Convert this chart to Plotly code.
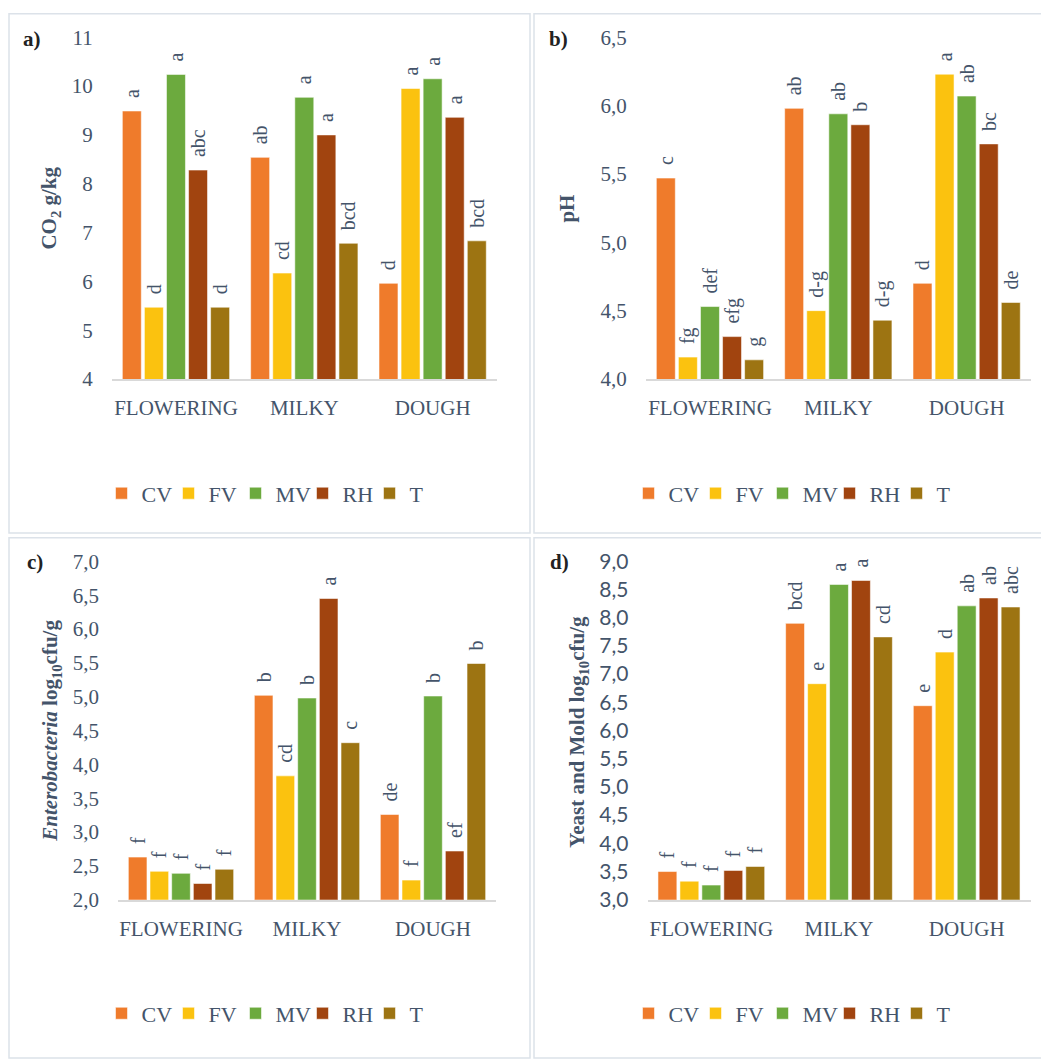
import plotly.graph_objects as go

# Growth stages on the x axis and the five treatments
stages = ["FLOWERING", "MILKY", "DOUGH"]
treatments = ["CV", "FV", "MV", "RH", "T"]

# a) CO2 production (g/kg) per treatment, one value per stage
co2_values = {
    "CV": [9.49, 8.54, 5.96],
    "FV": [5.47, 6.17, 9.95],
    "MV": [10.24, 9.77, 10.15],
    "RH": [8.28, 9.00, 9.36],
    "T":  [5.47, 6.78, 6.83],
}
co2_letters = {
    "CV": ["a", "ab", "d"],
    "FV": ["d", "cd", "a"],
    "MV": ["a", "a", "a"],
    "RH": ["abc", "a", "a"],
    "T":  ["d", "bcd", "bcd"],
}

# b) pH
ph_values = {
    "CV": [5.47, 5.98, 4.70],
    "FV": [4.16, 4.50, 6.23],
    "MV": [4.53, 5.94, 6.07],
    "RH": [4.31, 5.86, 5.72],
    "T":  [4.14, 4.43, 4.56],
}
ph_letters = {
    "CV": ["c", "ab", "d"],
    "FV": ["fg", "d-g", "a"],
    "MV": ["def", "ab", "ab"],
    "RH": ["efg", "b", "bc"],
    "T":  ["g", "d-g", "de"],
}

# c) Enterobacteria (log10 cfu/g)
ent_values = {
    "CV": [2.63, 5.02, 3.26],
    "FV": [2.42, 3.83, 2.29],
    "MV": [2.39, 4.98, 5.01],
    "RH": [2.24, 6.45, 2.72],
    "T":  [2.45, 4.32, 5.49],
}
ent_letters = {
    "CV": ["f", "b", "de"],
    "FV": ["f", "cd", "f"],
    "MV": ["f", "b", "b"],
    "RH": ["f", "a", "ef"],
    "T":  ["f", "c", "b"],
}

# d) Yeast and mold (log10 cfu/g)
ym_values = {
    "CV": [3.50, 7.90, 6.44],
    "FV": [3.33, 6.83, 7.39],
    "MV": [3.26, 8.59, 8.21],
    "RH": [3.52, 8.66, 8.35],
    "T":  [3.59, 7.66, 8.19],
}
ym_letters = {
    "CV": ["f", "bcd", "e"],
    "FV": ["f", "e", "d"],
    "MV": ["f", "a", "ab"],
    "RH": ["f", "a", "ab"],
    "T":  ["f", "cd", "abc"],
}

# Tick values for each panel
co2_ticks = [4, 5, 6, 7, 8, 9, 10, 11]
ph_ticks = [4.0, 4.5, 5.0, 5.5, 6.0, 6.5]
ent_ticks = [2.0, 2.5, 3.0, 3.5, 4.0, 4.5, 5.0, 5.5, 6.0, 6.5, 7.0]
ym_ticks = [3.0, 3.5, 4.0, 4.5, 5.0, 5.5, 6.0, 6.5, 7.0, 7.5, 8.0, 8.5, 9.0]

colors = {
    "CV": "#EF7B2B",
    "FV": "#FBC20F",
    "MV": "#6CAA3E",
    "RH": "#A1440F",
    "T":  "#9D7412",
}

W, H = 1041, 1064
TEXT = "#44546A"
SERIF = "Liberation Serif, Times New Roman, serif"


def px_x(v):
    return v / W


def px_y(v):
    return 1 - v / H


# panel geometry in pixels: x start/end of the plot, pixel row of the axis
# minimum, pixels per unit, and the value at which the plotting area ends
panels = [
    dict(key="a", values=co2_values, letters=co2_letters, ticks=co2_ticks,
         fmt="d", x0=111.8, x1=496.8, ybot=383.3, ppu=49.37, ymin=4, ytop=11.6,
         tickfont=SERIF, legend_xy=(269, 499), label_xy=(32, 39),
         title="<b>CO<sub>2</sub> g/kg</b>", title_xy=(50, 211)),
    dict(key="b", values=ph_values, letters=ph_letters, ticks=ph_ticks,
         fmt=".1f", x0=645.8, x1=1030.8, ybot=383.3, ppu=138.24, ymin=4, ytop=6.7,
         tickfont=SERIF, legend_xy=(796, 499), label_xy=(558, 39),
         title="<b>pH</b>", title_xy=(567, 211)),
    dict(key="c", values=ent_values, letters=ent_letters, ticks=ent_ticks,
         fmt=".1f", x0=118.0, x1=496.0, ybot=910.0, ppu=68.46, ymin=2, ytop=7.3,
         tickfont=SERIF, legend_xy=(269, 1025), label_xy=(35, 568),
         title="<b><i>Enterobacteria</i> log<sub>10</sub>cfu/g</b>", title_xy=(51, 739)),
    dict(key="d", values=ym_values, letters=ym_letters, ticks=ym_ticks,
         fmt=".1f", x0=647.5, x1=1030.5, ybot=910.0, ppu=57.05, ymin=3, ytop=9.35,
         tickfont="Lato, Open Sans, sans-serif", legend_xy=(796, 1025), label_xy=(559, 568),
         title="<b>Yeast and Mold log<sub>10</sub>cfu/g</b>", title_xy=(578, 740)),
]

fig = go.Figure()
annotations = []
shapes = []
layout_axes = {}

for i, p in enumerate(panels):
    n = "" if i == 0 else str(i + 1)
    xa, ya = "x" + n, "y" + n
    leg = "legend" + n
    for t in treatments:
        fig.add_trace(go.Bar(
            x=stages, y=p["values"][t], name=t,
            marker=dict(color=colors[t], line=dict(color="rgba(255,255,255,0.55)", width=1)),
            text=["\u00a0\u00a0" + s for s in p["letters"][t]],
            textposition="outside", textangle=-90, constraintext="none",
            textfont=dict(family=SERIF, size=20, color=TEXT),
            cliponaxis=True,
            xaxis=xa, yaxis=ya, legend=leg,
        ))
    top_px = p["ybot"] - (p["ytop"] - p["ymin"]) * p["ppu"]
    layout_axes["xaxis" + n] = dict(
        domain=[px_x(p["x0"]), px_x(p["x1"])], anchor=ya,
        showline=True, linecolor="#D9D9D9", linewidth=1.5, ticks="",
        showgrid=False, zeroline=False, ticklabelstandoff=9,
        tickfont=dict(family=SERIF, size=21, color=TEXT), fixedrange=True,
    )
    layout_axes["yaxis" + n] = dict(
        domain=[px_y(p["ybot"]), px_y(top_px)], anchor=xa,
        range=[p["ymin"], p["ytop"]], tickvals=p["ticks"], tickformat=p["fmt"],
        showline=False, showgrid=False, zeroline=False, ticks="",
        ticklabelstandoff=18,
        tickfont=dict(family=p["tickfont"], size=21, color=TEXT), fixedrange=True,
    )
    layout_axes[leg] = dict(
        orientation="h", x=px_x(p["legend_xy"][0]), y=px_y(p["legend_xy"][1]),
        xanchor="center", yanchor="middle", bgcolor="rgba(0,0,0,0)",
        font=dict(family=SERIF, size=22, color=TEXT), traceorder="normal",
        entrywidth=22, entrywidthmode="pixels", itemwidth=30,
    )
    annotations.append(dict(
        text="<b>%s)</b>" % p["key"], x=px_x(p["label_xy"][0]), y=px_y(p["label_xy"][1]),
        xref="paper", yref="paper", xanchor="center", yanchor="middle",
        showarrow=False, font=dict(family=SERIF, size=21, color="#222222"),
    ))
    annotations.append(dict(
        text=p["title"], x=px_x(p["title_xy"][0]), y=px_y(p["title_xy"][1]),
        xref="paper", yref="paper", xanchor="center", yanchor="middle",
        textangle=-90, showarrow=False, font=dict(family=SERIF, size=21, color=TEXT),
    ))

# light frames around the four panels
frames = [(9, 14, 530, 539), (534, 14, 1046, 539), (9, 544, 530, 1070), (534, 544, 1046, 1070)]
for x0, y0, x1, y1 in frames:
    shapes.append(dict(
        type="rect", xref="paper", yref="paper",
        x0=px_x(x0), x1=px_x(x1), y0=px_y(y0), y1=px_y(y1),
        line=dict(color="#DCE2E9", width=1.5), fillcolor="rgba(0,0,0,0)", layer="below",
    ))

fig.update_layout(
    width=W, height=H, margin=dict(l=0, r=0, t=0, b=0),
    paper_bgcolor="white", plot_bgcolor="white",
    barmode="group", bargap=0.14, bargroupgap=0.14,
    separators=",.", showlegend=True,
    annotations=annotations, shapes=shapes,
    **layout_axes,
)

fig.write_html("out.html")
